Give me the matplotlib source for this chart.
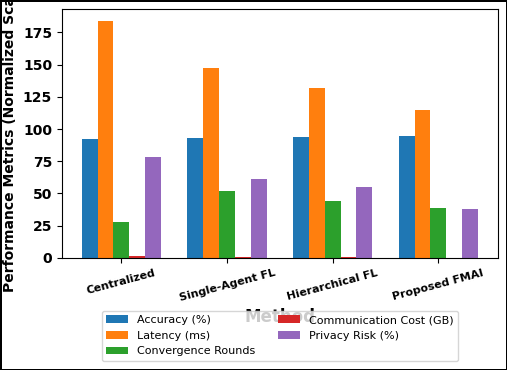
import numpy as np
import matplotlib.pyplot as plt

methods = ['Centralized', 'Single-Agent FL', 'Hierarchical FL', 'Proposed FMAI']
accuracy = [92, 93, 94, 94.5]
latency = [184, 147, 132, 115]
convergence = [28, 52, 44, 39]
comm_cost = [1.5, 0.8, 0.5, 0.3]
privacy = [78, 61.5, 55, 38]

series = [
    ('Accuracy (%)', accuracy),
    ('Latency (ms)', latency),
    ('Convergence Rounds', convergence),
    ('Communication Cost (GB)', comm_cost),
    ('Privacy Risk (%)', privacy),
]

fig = plt.figure(figsize=(5.07, 3.70), dpi=100, linewidth=2, edgecolor='black')
ax = fig.add_axes([0.122, 0.303, 0.86, 0.673])

x = np.arange(len(methods))
width = 0.15
for i, (name, vals) in enumerate(series):
    ax.bar(x + (i - 2) * width, vals, width, label=name)

ax.set_xticks(x)
ax.set_xticklabels(methods, rotation=15, fontsize=8, fontweight='bold')
for lbl in ax.get_yticklabels():
    lbl.set_fontweight('bold')
ax.tick_params(axis='y', labelsize=10)
ax.set_ylabel('Performance Metrics (Normalized Scale)', fontsize=10, fontweight='bold')
ax.set_xlabel('Method', fontsize=12, fontweight='bold')
ax.legend(loc='upper center', bbox_to_anchor=(0.5, -0.19), ncol=2, fontsize=8)

fig.savefig('out.png', dpi=100)
